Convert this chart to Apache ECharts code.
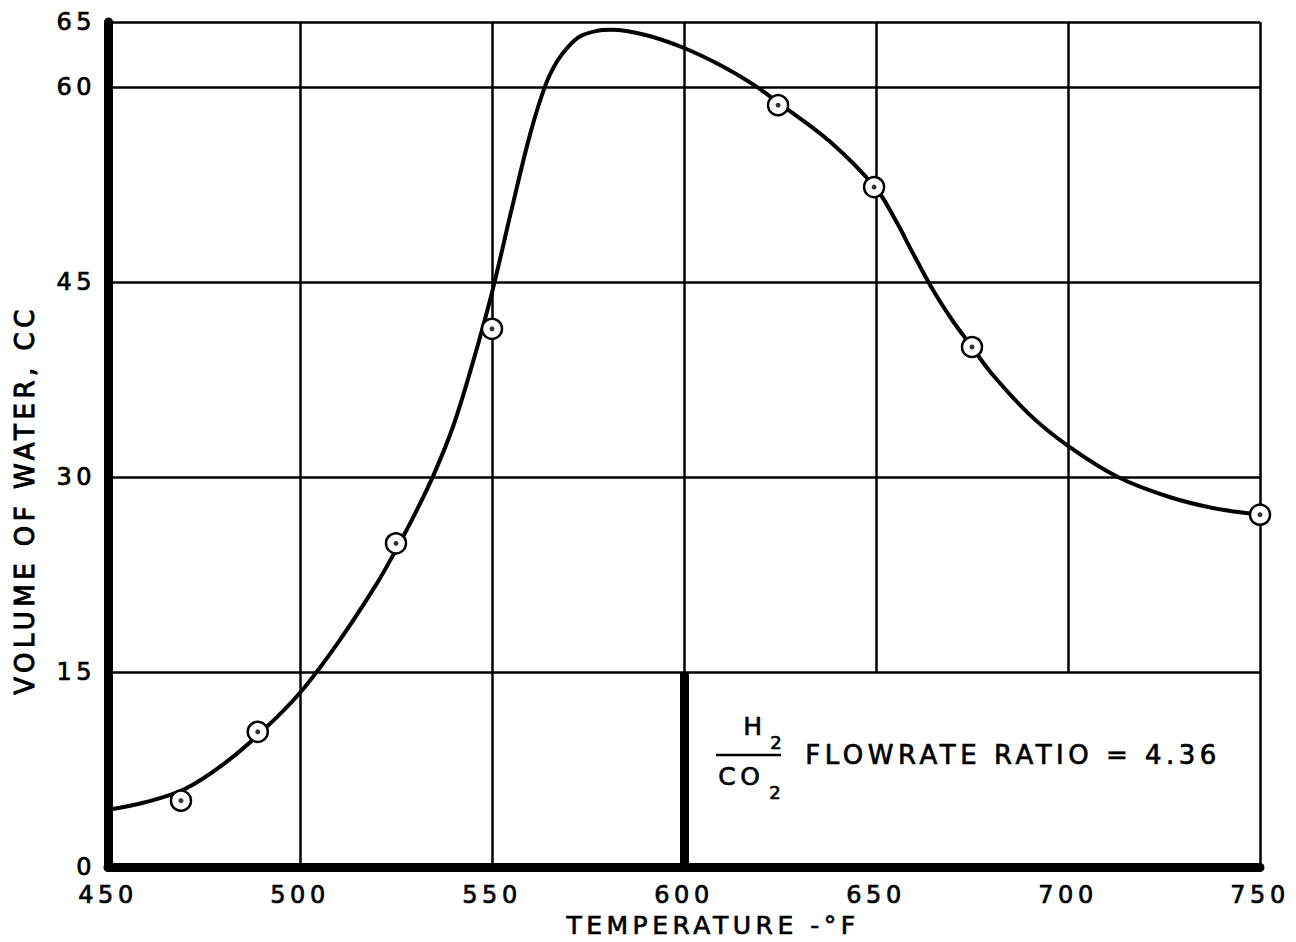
<!DOCTYPE html>
<html>
<head>
<meta charset="utf-8">
<script src="https://cdn.jsdelivr.net/npm/echarts@6/dist/echarts.min.js"></script>
<style>
html,body{margin:0;padding:0;background:#fff;}
#main{width:1296px;height:942px;}
#main text{letter-spacing:4.5px;}
</style>
</head>
<body>
<div id="main"></div>
<script>
// Measured points (temperature °F, volume of water cc)
const pointTemp = [469, 489, 525, 550, 624.5, 649.5, 675, 750];
const pointWater = [5.1, 10.4, 24.9, 41.4, 58.6, 52.3, 40.0, 27.1];

// Hand-drawn fitted curve
const curveTemp = [450, 460, 470, 480, 490, 500, 510, 520, 525, 530, 535, 540, 545, 550, 555, 560, 564, 567, 570, 573, 577, 581, 590, 600, 610, 618, 625, 638, 650, 655, 660, 665, 670, 675, 680, 690, 700, 713, 726, 738, 750];
const curveWater = [4.4, 5.0, 6.0, 7.9, 10.4, 13.4, 17.3, 21.8, 24.4, 27.2, 30.3, 34.0, 38.8, 44.2, 50.45, 56.45, 60.2, 62.0, 63.15, 63.9, 64.3, 64.4, 64.0, 63.0, 61.6, 60.2, 58.7, 55.8, 52.2, 49.8, 47.0, 44.3, 42.0, 40.0, 38.0, 34.8, 32.4, 30.0, 28.5, 27.6, 27.1];

// Axis ranges and ticks
const xMin = 450, xMax = 750, xStep = 50;
const yMin = 0, yMax = 65, yStep = 15;

// Vertical rule lines of the drawing
const fullVerticals = [500, 550, 750];       // full height
const upperVerticals = [600, 650, 700];      // from 15 up to 65
const insetBottom = 15;                      // the inset box top edge
const thickVertical = 600;                   // thick bar from 0 to 15

const xTitle = 'TEMPERATURE -°F';
const yTitle = 'VOLUME OF WATER, CC';
const noteText = 'FLOWRATE RATIO = 4.36';

const chart = echarts.init(document.getElementById('main'), null, {renderer: 'svg'});

const curveData = curveTemp.map((t, i) => [t, curveWater[i]]);
const pointData = pointTemp.map((t, i) => [t, pointWater[i]]);

const markLines = [];
fullVerticals.forEach(v => markLines.push([{coord: [v, yMin], lineStyle: {width: 2.5, color: '#000', type: 'solid'}}, {coord: [v, yMax]}]));
upperVerticals.forEach(v => markLines.push([{coord: [v, insetBottom], lineStyle: {width: 2.5, color: '#000', type: 'solid'}}, {coord: [v, yMax]}]));
markLines.push([{coord: [thickVertical, yMin], lineStyle: {width: 9, color: '#000', type: 'solid'}}, {coord: [thickVertical, insetBottom]}]);

const labelFont = '"DejaVu Sans", sans-serif';
const txt = (extra) => Object.assign({fill: '#000', stroke: '#000', lineWidth: 0.7}, extra);

chart.setOption({
  backgroundColor: '#fff',
  animation: false,
  grid: {left: 108, right: 36, top: 22, bottom: 75},
  xAxis: {
    type: 'value', min: xMin, max: xMax, interval: xStep,
    axisLine: {show: true, onZero: false, lineStyle: {color: '#000', width: 9}},
    axisTick: {show: false},
    splitLine: {show: false},
    axisLabel: {fontFamily: labelFont, fontSize: 24, color: '#000', margin: 16, textBorderColor: '#000', textBorderWidth: 0.7}
  },
  yAxis: {
    type: 'value', min: yMin, max: yMax, interval: yStep,
    axisLine: {show: true, lineStyle: {color: '#000', width: 9}},
    axisTick: {show: false},
    splitLine: {show: true, lineStyle: {color: '#000', width: 2.5}},
    axisLabel: {fontFamily: labelFont, fontSize: 24, color: '#000', margin: 12, textBorderColor: '#000', textBorderWidth: 0.7}
  },
  series: [
    {
      type: 'line', data: curveData, smooth: 0.35, showSymbol: false, silent: true,
      lineStyle: {color: '#000', width: 4}, z: 3,
      markLine: {silent: true, symbol: ['none', 'none'], label: {show: false}, data: markLines, z: 1, animation: false}
    },
    {
      type: 'scatter', data: pointData, symbol: 'circle', symbolSize: 20, silent: true,
      itemStyle: {color: '#fff', borderColor: '#000', borderWidth: 2.5, opacity: 1}, z: 5
    },
    {
      type: 'scatter', data: pointData, symbol: 'circle', symbolSize: 5, silent: true,
      itemStyle: {color: '#000'}, z: 6
    }
  ],
  graphic: [
    {type: 'text', x: 713, y: 925, style: txt({text: xTitle, font: '25px "DejaVu Sans"', textAlign: 'center', textVerticalAlign: 'middle'})},
    {type: 'text', x: 25, y: 500, rotation: Math.PI / 2, style: txt({text: yTitle, font: '26px "DejaVu Sans"', textAlign: 'center', textVerticalAlign: 'middle', lineWidth: 1})},
    {type: 'text', left: 743, top: 714, style: txt({text: 'H', font: '25px "DejaVu Sans"'})},
    {type: 'text', left: 770, top: 733, style: txt({text: '2', font: '18px "DejaVu Sans"'})},
    {type: 'line', shape: {x1: 716, y1: 755, x2: 781, y2: 755}, style: {stroke: '#000', lineWidth: 2.5}},
    {type: 'text', left: 718, top: 764, style: txt({text: 'CO', font: '25px "DejaVu Sans"'})},
    {type: 'text', left: 769, top: 783, style: txt({text: '2', font: '18px "DejaVu Sans"'})},
    {type: 'text', left: 805, top: 742, style: txt({text: noteText, font: '26px "DejaVu Sans"'})}
  ]
});
</script>
</body>
</html>
